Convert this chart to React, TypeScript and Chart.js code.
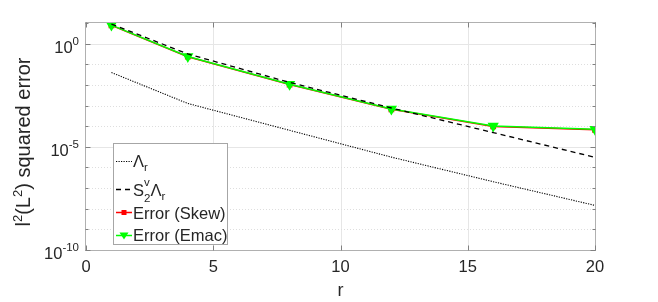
import React, { useEffect, useRef } from "react";
import { Chart, registerables } from "chart.js";

Chart.register(...registerables);

const rValues = [1, 4, 8, 12, 16, 20];
const lambdaR = [3.98e-2, 1.26e-3, 6.3e-5, 3.16e-6, 2.04e-7, 1.45e-8];
const s2vLambdaR = [8.9, 0.316, 1.32e-2, 7.6e-4, 4.9e-5, 3.1e-6];
const errorSkew = [7.7, 0.232, 1.04e-2, 6.6e-4, 9.7e-5, 6.7e-5];
const errorEmac = [7.9, 0.24, 1.07e-2, 6.8e-4, 1.02e-4, 7.1e-5];
const xTicks = [0, 5, 10, 15, 20];
const yDecades = [1e-10, 1e-9, 1e-8, 1e-7, 1e-6, 1e-5, 1e-4, 1e-3, 1e-2, 1e-1, 1, 10];
const yMajor = [1, 1e-5, 1e-10];
const yMajorExp = ["0", "-5", "-10"];

const FONT = '"Liberation Sans", Arial, Helvetica, sans-serif';
const TEXT = "#262626";

type Run = { t: string; size: number; dy: number };

function font(size: number) {
  return `${size}px ${FONT}`;
}

function runsWidth(ctx: CanvasRenderingContext2D, runs: Run[]) {
  let w = 0;
  for (const r of runs) {
    ctx.font = font(r.size);
    w += ctx.measureText(r.t).width;
  }
  return w;
}

function drawRuns(ctx: CanvasRenderingContext2D, runs: Run[], x: number, y: number) {
  let cx = x;
  ctx.textBaseline = "alphabetic";
  ctx.textAlign = "left";
  for (const r of runs) {
    ctx.font = font(r.size);
    ctx.fillText(r.t, cx, y + r.dy);
    cx += ctx.measureText(r.t).width;
  }
  return cx;
}

const decorPlugin = {
  id: "decor",
  beforeDatasetsDraw(chart: any) {
    const ctx: CanvasRenderingContext2D = chart.ctx;
    const { left, right, top, bottom } = chart.chartArea;
    const xs = chart.scales.x;
    const ys = chart.scales.y;
    ctx.save();
    ctx.lineWidth = 1;
    ctx.strokeStyle = "#e6e6e6";
    ctx.setLineDash([]);
    for (const v of xTicks) {
      if (v === 0 || v === 20) continue;
      const px = Math.round(xs.getPixelForValue(v)) + 0.5;
      ctx.beginPath();
      ctx.moveTo(px, top);
      ctx.lineTo(px, bottom);
      ctx.stroke();
    }
    for (const v of yDecades) {
      if (v === 1e-10 || v === 10) continue;
      const py = Math.round(ys.getPixelForValue(v)) + 0.5;
      const major = yMajor.includes(v);
      ctx.strokeStyle = major ? "#e6e6e6" : "#dedede";
      ctx.setLineDash(major ? [] : [1, 2]);
      ctx.beginPath();
      ctx.moveTo(left, py);
      ctx.lineTo(right, py);
      ctx.stroke();
    }
    ctx.restore();
  },
  afterDraw(chart: any) {
    const ctx: CanvasRenderingContext2D = chart.ctx;
    const { left, right, top, bottom } = chart.chartArea;
    const xs = chart.scales.x;
    const ys = chart.scales.y;
    ctx.save();
    ctx.setLineDash([]);
    ctx.lineWidth = 1;
    ctx.strokeStyle = "#b0b0b0";
    const L = Math.round(left) - 0.5;
    const R = Math.round(right) + 0.5;
    const T = Math.round(top) - 0.5;
    const B = Math.round(bottom) + 0.5;
    ctx.strokeRect(L, T, R - L, B - T);
    ctx.strokeStyle = "#808080";
    for (const v of yDecades) {
      const py = Math.round(ys.getPixelForValue(v)) + 0.5;
      const len = yMajor.includes(v) ? 5 : 3;
      ctx.beginPath();
      ctx.moveTo(L, py);
      ctx.lineTo(L + len, py);
      ctx.moveTo(R, py);
      ctx.lineTo(R - len, py);
      ctx.stroke();
    }
    for (const v of xTicks) {
      const px = Math.round(xs.getPixelForValue(v)) + 0.5;
      ctx.beginPath();
      ctx.moveTo(px, B);
      ctx.lineTo(px, B - 5);
      ctx.moveTo(px, T);
      ctx.lineTo(px, T + 5);
      ctx.stroke();
    }
    ctx.fillStyle = TEXT;
    yMajor.forEach((v, i) => {
      const py = ys.getPixelForValue(v);
      const runs: Run[] = [
        { t: "10", size: 16.5, dy: 9 },
        { t: yMajorExp[i], size: 11.5, dy: 1 },
      ];
      const w = runsWidth(ctx, runs);
      drawRuns(ctx, runs, 79 - w, py);
    });
    ctx.font = font(18);
    ctx.textAlign = "center";
    ctx.textBaseline = "alphabetic";
    ctx.fillText("r", xs.getPixelForValue(10), 296);
    const yl: Run[] = [
      { t: "l", size: 20, dy: 0 },
      { t: "2", size: 13, dy: -8 },
      { t: "(L", size: 20, dy: 0 },
      { t: "2", size: 13, dy: -8 },
      { t: ") squared error", size: 20, dy: 0 },
    ];
    const ylw = runsWidth(ctx, yl);
    ctx.save();
    ctx.translate(30, 142);
    ctx.rotate(-Math.PI / 2);
    drawRuns(ctx, yl, -ylw / 2, 0);
    ctx.restore();

    // legend
    const bx = 113.5, by = 143.5, bw = 114, bh = 101;
    ctx.fillStyle = "#ffffff";
    ctx.fillRect(bx, by, bw, bh);
    ctx.strokeStyle = "#a6a6a6";
    ctx.lineWidth = 1;
    ctx.strokeRect(bx, by, bw, bh);
    const sx0 = 116, sx1 = 132, tx = 133;
    ctx.strokeStyle = "#000000";
    ctx.lineWidth = 1.1;
    ctx.setLineDash([1.2, 1.3]);
    ctx.beginPath();
    ctx.moveTo(sx0, 161.5);
    ctx.lineTo(sx1, 161.5);
    ctx.stroke();
    ctx.fillStyle = TEXT;
    let cx = drawRuns(ctx, [{ t: "Λ", size: 16.5, dy: 0 }], tx, 167);
    drawRuns(ctx, [{ t: "r", size: 11.5, dy: 0 }], cx, 171);
    ctx.strokeStyle = "#000000";
    ctx.lineWidth = 1.3;
    ctx.setLineDash([5, 4]);
    ctx.beginPath();
    ctx.moveTo(sx0, 189.5);
    ctx.lineTo(sx1, 189.5);
    ctx.stroke();
    ctx.setLineDash([]);
    cx = drawRuns(ctx, [{ t: "S", size: 16.5, dy: 0 }], tx, 196);
    ctx.font = font(11.5);
    const wv = ctx.measureText("v").width;
    const w2 = ctx.measureText("2").width;
    drawRuns(ctx, [{ t: "v", size: 11.5, dy: 0 }], cx, 186);
    drawRuns(ctx, [{ t: "2", size: 11.5, dy: 0 }], cx, 202);
    cx += Math.max(wv, w2);
    cx = drawRuns(ctx, [{ t: "Λ", size: 16.5, dy: 0 }], cx, 196);
    drawRuns(ctx, [{ t: "r", size: 11.5, dy: 0 }], cx, 200);
    ctx.strokeStyle = "#ff0000";
    ctx.lineWidth = 1.5;
    ctx.beginPath();
    ctx.moveTo(sx0, 212.5);
    ctx.lineTo(sx1, 212.5);
    ctx.stroke();
    ctx.fillStyle = "#ff0000";
    ctx.fillRect(121.5, 210, 5, 5);
    ctx.fillStyle = TEXT;
    drawRuns(ctx, [{ t: "Error (Skew)", size: 16.5, dy: 0 }], tx, 219);
    ctx.strokeStyle = "#00ff00";
    ctx.beginPath();
    ctx.moveTo(sx0, 235.5);
    ctx.lineTo(sx1, 235.5);
    ctx.stroke();
    ctx.fillStyle = "#00ff00";
    ctx.beginPath();
    ctx.moveTo(119.5, 232.5);
    ctx.lineTo(128.5, 232.5);
    ctx.lineTo(124, 239.5);
    ctx.closePath();
    ctx.fill();
    ctx.fillStyle = TEXT;
    drawRuns(ctx, [{ t: "Error (Emac)", size: 16.5, dy: 0 }], tx, 241);
    ctx.restore();
  },
};

function pts(ys: number[]) {
  return rValues.map((r, i) => ({ x: r, y: ys[i] }));
}

export default function App() {
  const ref = useRef<HTMLCanvasElement | null>(null);
  useEffect(() => {
    if (!ref.current) return;
    const chart = new Chart(ref.current, {
      type: "line",
      data: {
        datasets: [
          {
            label: "S2vΛr",
            data: pts(s2vLambdaR),
            borderColor: "#000000",
            borderWidth: 1.3,
            borderDash: [5, 4],
            pointRadius: 0,
            fill: false,
          },
          {
            label: "Error (Emac)",
            data: pts(errorEmac),
            borderColor: "#00ff00",
            backgroundColor: "#00ff00",
            borderWidth: 1.5,
            pointStyle: "triangle",
            pointRotation: 180,
            pointRadius: 5,
            fill: false,
          },
          {
            label: "Error (Skew)",
            data: pts(errorSkew),
            borderColor: "#ff0000",
            backgroundColor: "#ff0000",
            borderWidth: 1.5,
            pointStyle: "rect",
            pointRadius: 3,
            fill: false,
          },
          {
            label: "Λr",
            data: pts(lambdaR),
            borderColor: "#000000",
            borderWidth: 1.1,
            borderDash: [1.2, 1.3],
            pointRadius: 0,
            fill: false,
          },
        ],
      },
      options: {
        animation: false,
        responsive: false,
        maintainAspectRatio: false,
        layout: { padding: { left: 0, top: 23, right: 63, bottom: 0 } },
        plugins: { legend: { display: false }, tooltip: { enabled: false } },
        elements: { line: { tension: 0 } },
        scales: {
          x: {
            type: "linear",
            min: 0,
            max: 20,
            afterBuildTicks: (s: any) => {
              s.ticks = xTicks.map((v) => ({ value: v }));
            },
            ticks: {
              font: { family: FONT, size: 16.5 },
              color: TEXT,
              padding: 8,
              maxRotation: 0,
            },
            grid: { display: false, drawTicks: false },
            border: { display: false },
            afterFit: (s: any) => {
              s.height = 52;
            },
          },
          y: {
            type: "logarithmic",
            min: 1e-10,
            max: 10,
            afterBuildTicks: (s: any) => {
              s.ticks = yDecades.map((v) => ({ value: v }));
            },
            ticks: { display: false },
            grid: { display: false, drawTicks: false },
            border: { display: false },
            afterFit: (s: any) => {
              s.width = 86;
            },
          },
        },
      },
      plugins: [decorPlugin],
    } as any);
    return () => chart.destroy();
  }, []);
  return (
    <div style={{ position: "absolute", left: 0, top: 0, width: 658, height: 302, background: "#fff" }}>
      <canvas ref={ref} width={658} height={302} style={{ width: 658, height: 302, display: "block" }} />
    </div>
  );
}
